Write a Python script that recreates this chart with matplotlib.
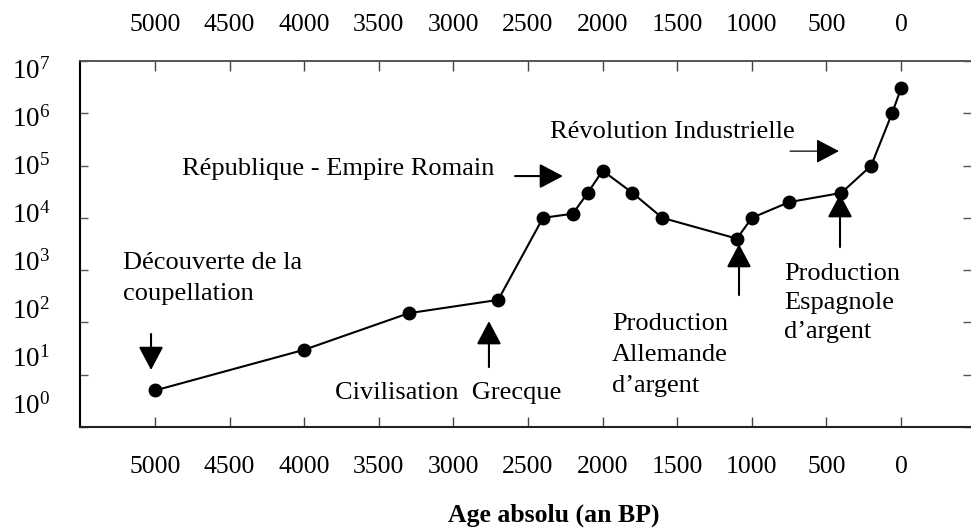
import matplotlib
matplotlib.use('Agg')
import matplotlib.pyplot as plt

plt.rcParams['font.family'] = ['Liberation Serif', 'DejaVu Serif']
plt.rcParams['mathtext.fontset'] = 'custom'
plt.rcParams['mathtext.rm'] = 'Liberation Serif'
plt.rcParams['mathtext.it'] = 'Liberation Serif:italic'

# Production d'argent (estimated from the figure)
age = [5000, 4000, 3300, 2700, 2400, 2200, 2100, 2000, 1800, 1600,
       1100, 1000, 750, 400, 200, 60, 0]
production = [5, 30, 150, 270, 10000, 12000, 30000, 80000, 30000, 10000,
              4000, 10000, 20000, 30000, 100000, 1000000, 3000000]

x_ticks = [5000, 4500, 4000, 3500, 3000, 2500, 2000, 1500, 1000, 500, 0]
y_decades = [1, 10, 100, 1000, 10000, 100000, 1000000, 10000000]
y_labels = [r'$10^{0}$', r'$10^{1}$', r'$10^{2}$', r'$10^{3}$',
            r'$10^{4}$', r'$10^{5}$', r'$10^{6}$', r'$10^{7}$']

fig = plt.figure(figsize=(9.71, 5.32), dpi=100)
ax = fig.add_axes([0.0824, 0.1974, 0.9176, 0.6879])

ax.plot(age, production, color='black', linewidth=1.5, marker='o',
        markersize=9, markerfacecolor='black', markeredgecolor='black')

ax.set_yscale('log')
ax.set_ylim(1, 1e7)
ax.set_xlim(5503, -469)
ax.minorticks_off()

ax.set_xticks(x_ticks)
ax.set_xticklabels([str(v) for v in x_ticks])
ax.set_yticks(y_decades)
ax.set_yticklabels([])

ax.tick_params(axis='x', which='both', direction='in', length=7, width=1,
               color='#444444', top=False, labelsize=18.5, pad=21)
ax.tick_params(axis='y', which='both', direction='in', length=6, width=1,
               color='#555555', right=True, labelleft=False)

# top axis: same ticks, labels a little closer to the frame
top = ax.secondary_xaxis('top')
top.set_xticks(x_ticks)
top.set_xticklabels([str(v) for v in x_ticks])
top.tick_params(direction='in', length=7, width=1, color='#444444',
                labelsize=18.5, pad=18)
top.spines['top'].set_linewidth(1.2)
top.spines['top'].set_color('#555555')

ax.spines['left'].set_linewidth(1.5)
ax.spines['bottom'].set_linewidth(1.5)
ax.spines['bottom'].set_color('#222222')
ax.spines['top'].set_linewidth(1.2)
ax.spines['top'].set_color('#555555')
ax.spines['right'].set_visible(False)

# y labels are set a bit apart from the ticks, as in the original
n = len(y_labels)
for i, lab in enumerate(y_labels):
    yb = 414 - i * (414 - 79) / (n - 1)
    fig.text(12 / 971, 1 - yb / 532, lab, ha='left', va='baseline',
             fontsize=19.5)

ax.set_xlabel('Age absolu (an BP)', fontsize=18.5, fontweight='bold')
ax.xaxis.set_label_coords(0.532, -0.24)
ax.xaxis.label.set_va('center')

fs = 19
arrow_kw = dict(arrowstyle='-|>,head_length=0.72,head_width=0.38',
                mutation_scale=20, color='black', lw=1.5,
                shrinkA=0, shrinkB=0)

ax.text(5214, 692, 'Découverte de la\ncoupellation', fontsize=fs,
        ha='left', va='center', linespacing=1.5)
ax.annotate('', xy=(5027, 12.3), xytext=(5027, 60), arrowprops=arrow_kw)

ax.text(4819, 85700, 'République - Empire Romain', fontsize=fs,
        ha='left', va='center')
ax.annotate('', xy=(2266, 63000), xytext=(2587, 63000), arrowprops=arrow_kw)

ax.text(2353, 437000, 'Révolution Industrielle', fontsize=fs,
        ha='left', va='center')
ax.annotate('', xy=(416, 189000), xytext=(744, 189000),
            arrowprops=dict(arrow_kw, lw=0.9))

ax.text(3794, 4.47, 'Civilisation  Grecque', fontsize=fs,
        ha='left', va='center')
ax.annotate('', xy=(2762, 106), xytext=(2762, 14), arrowprops=arrow_kw)

ax.text(1937, 23.8, 'Production\nAllemande\nd\u2019argent', fontsize=fs,
        ha='left', va='center', linespacing=1.52)
ax.annotate('', xy=(1086, 3155), xytext=(1086, 334), arrowprops=arrow_kw)

ax.text(785, 235, 'Production\nEspagnole\nd\u2019argent', fontsize=fs,
        ha='left', va='center', linespacing=1.4)
ax.annotate('', xy=(409, 28500), xytext=(409, 2766), arrowprops=arrow_kw)

fig.savefig('out.png', dpi=100)
